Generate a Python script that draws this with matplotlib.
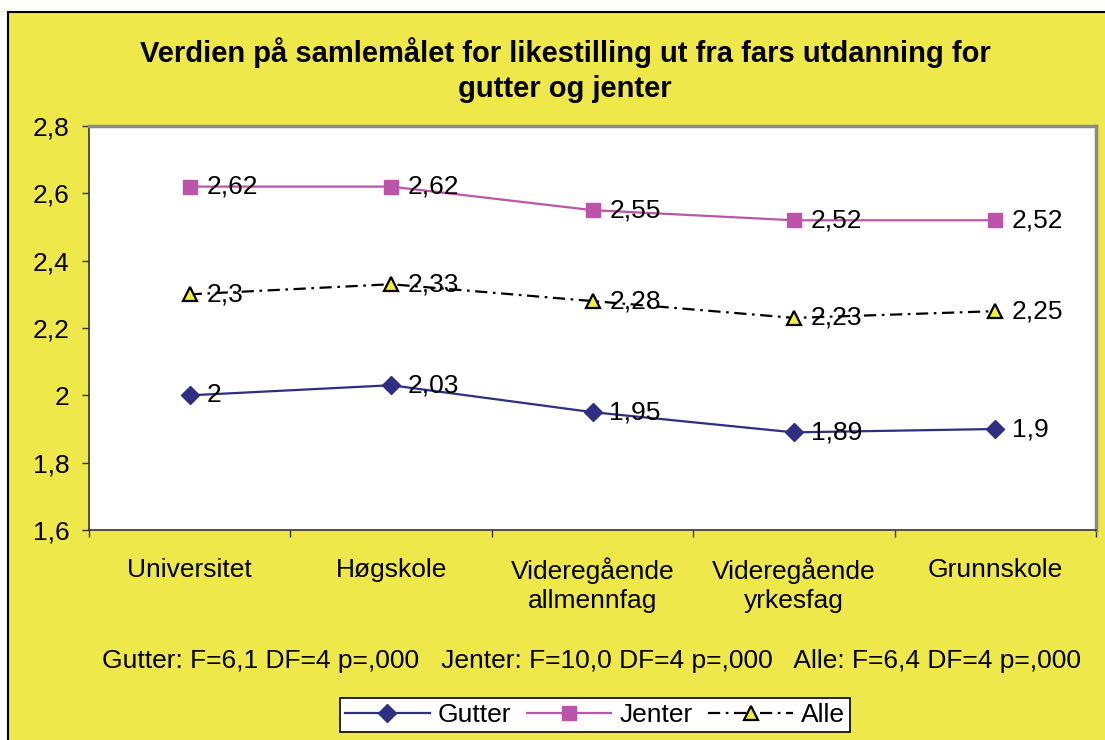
import matplotlib
matplotlib.use("Agg")
import matplotlib.pyplot as plt
from matplotlib.patches import Rectangle
from matplotlib.ticker import FixedLocator, NullFormatter

plt.rcParams.update({"font.family": ["Liberation Sans", "DejaVu Sans"], "font.size": 19})

categories = ["Universitet", "Høgskole", "Videregående\nallmennfag", "Videregående\nyrkesfag", "Grunnskole"]
gutter = [2.0, 2.03, 1.95, 1.89, 1.9]
jenter = [2.62, 2.62, 2.55, 2.52, 2.52]
alle = [2.3, 2.33, 2.28, 2.23, 2.25]
yticks = [1.6, 1.8, 2.0, 2.2, 2.4, 2.6, 2.8]
ytick_labels = ["1,6", "1,8", "2", "2,2", "2,4", "2,6", "2,8"]

title = "Verdien på samlemålet for likestilling ut fra fars utdanning for\ngutter og jenter"
stats = "Gutter: F=6,1 DF=4 p=,000   Jenter: F=10,0 DF=4 p=,000   Alle: F=6,4 DF=4 p=,000"

W, H = 1105, 740
fig = plt.figure(figsize=(W / 100, H / 100), dpi=100, facecolor="white")

# yellow chart area with black border (left/top visible)
fig.patches.append(Rectangle((8 / W, -0.05), 1.1, (H - 12) / H + 0.05, transform=fig.transFigure,
                             facecolor="#EEE84A", edgecolor="black", linewidth=1.5, zorder=-5))

ax = fig.add_axes([89 / W, (H - 530) / H, 1007 / W, 404 / H])
ax.set_zorder(2)
ax.set_facecolor("white")
x = list(range(len(categories)))

ax.plot(x, gutter, color="#2E2E82", lw=1.6, marker="D", markersize=9.5, label="Gutter")
ax.plot(x, jenter, color="#BB55AA", lw=1.6, marker="s", markersize=10, label="Jenter")
ax.plot(x, alle, color="black", lw=1.6, dashes=(5.5, 2.5, 1.2, 2.5), marker="^", markersize=10.5,
        markerfacecolor="#F2EE3C", markeredgecolor="black", markeredgewidth=1.6, label="Alle")

for series in (gutter, jenter, alle):
    for xi, v in zip(x, series):
        ax.annotate(f"{v:g}".replace(".", ","), (xi, v), xytext=(12, 0), textcoords="offset points",
                    ha="left", va="center", fontsize=19)

ax.set_xlim(-0.5, len(categories) - 0.5)
ax.set_ylim(1.6, 2.8)
ax.set_yticks(yticks)
ax.set_yticklabels(ytick_labels)
ax.tick_params(axis="y", direction="out", length=5, width=1, pad=9, color="#333333")

ax.set_xticks(x)
ax.set_xticklabels(categories, linespacing=1.25)
ax.tick_params(axis="x", which="major", length=0, pad=20)
ax.xaxis.set_minor_locator(FixedLocator([i - 0.5 for i in range(len(categories) + 1)]))
ax.xaxis.set_minor_formatter(NullFormatter())
ax.tick_params(axis="x", which="minor", direction="out", length=5, width=1, color="#333333")

for side in ("left", "bottom"):
    ax.spines[side].set_color("#333333")
    ax.spines[side].set_linewidth(1.2)
for side in ("top", "right"):
    ax.spines[side].set_color("#8A8A8A")
    ax.spines[side].set_linewidth(2.5)

fig.text(565 / W, (H - 70) / H, title, ha="center", va="center", fontsize=21, fontweight="bold",
         linespacing=1.35)
fig.text(592 / W, (H - 661) / H, stats, ha="center", va="center", fontsize=19)

leg = fig.legend(loc="center", bbox_to_anchor=(595 / W, (H - 715) / H), ncol=3, frameon=True,
                 fancybox=False, edgecolor="black", framealpha=1, fontsize=19, handlelength=3.2,
                 columnspacing=0.6, handletextpad=0.3, borderpad=0.2)
leg.get_frame().set_linewidth(1.2)

fig.savefig("out.png", dpi=100, facecolor="white")
